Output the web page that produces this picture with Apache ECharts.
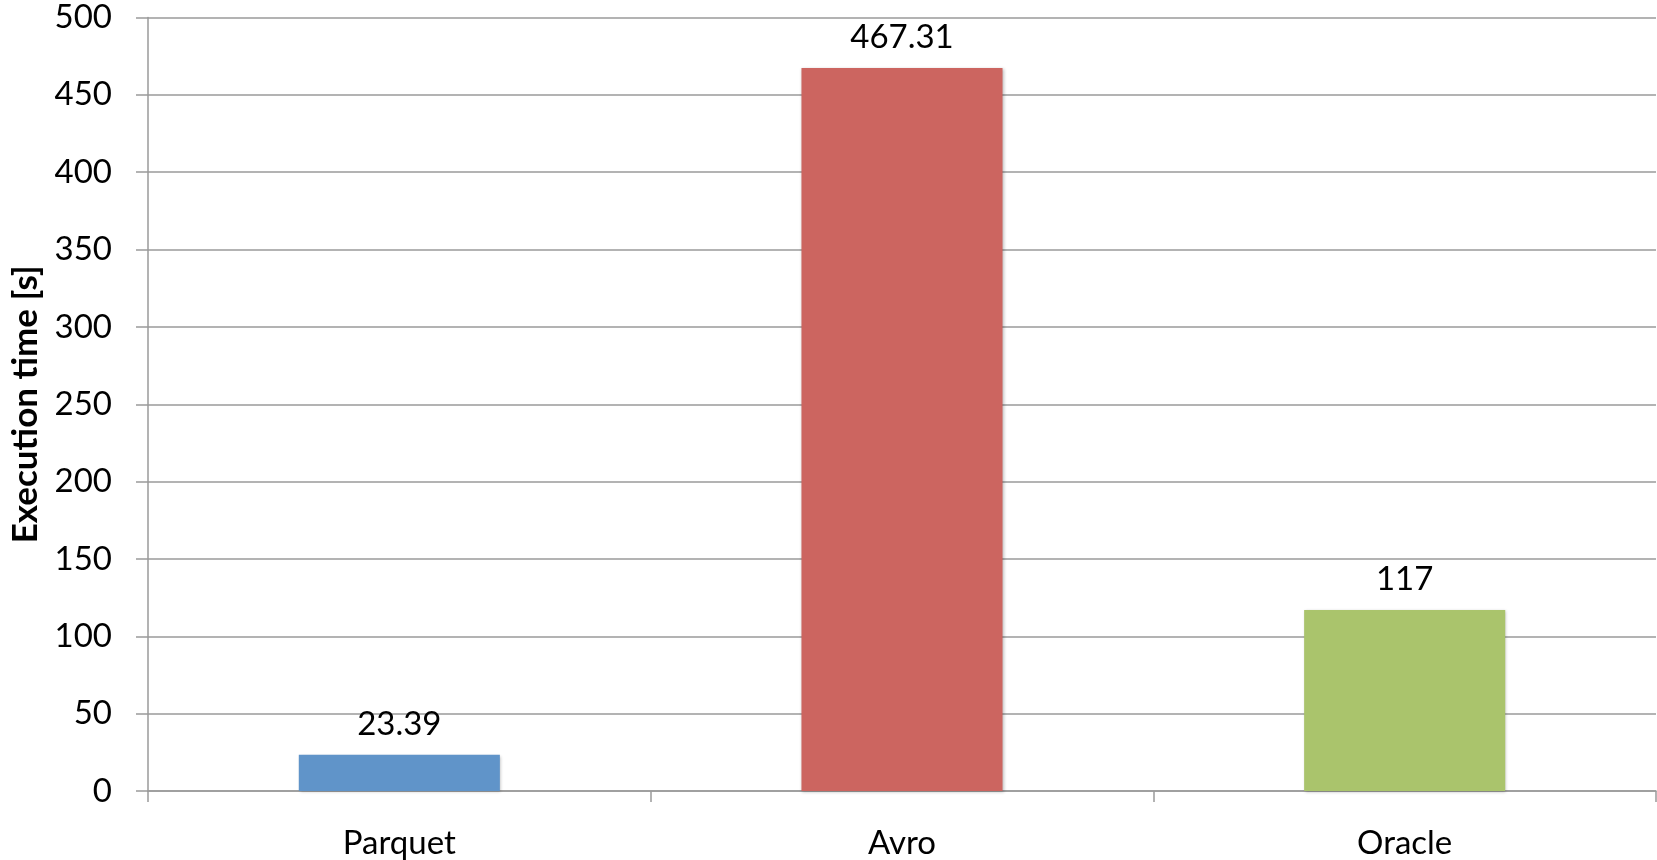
<!DOCTYPE html>
<html>
<head>
<meta charset="utf-8">
<script src="https://cdn.jsdelivr.net/npm/echarts@6/dist/echarts.min.js"></script>
<style>
html,body{margin:0;padding:0;background:#fff;}
#chart{width:1657px;height:860px;}
</style>
</head>
<body>
<div id="chart"></div>
<script>
const categories = ['Parquet', 'Avro', 'Oracle'];
const executionTimes = [23.39, 467.31, 117];
const barColors = ['#6094C9', '#CC6560', '#AAC46C'];
const yAxisTitle = 'Execution time [s]';

const chart = echarts.init(document.getElementById('chart'), null, {renderer: 'canvas'});
const font = 'Lato, "Open Sans", sans-serif';
chart.setOption({
  animation: false,
  backgroundColor: '#ffffff',
  grid: {left: 148, right: 1, top: 17.5, bottom: 68, containLabel: false},
  xAxis: {
    type: 'category',
    data: categories,
    axisLine: {show: true, lineStyle: {color: '#9a9a9a', width: 1.5}},
    axisTick: {show: true, length: 11, lineStyle: {color: '#9a9a9a', width: 1.5}},
    axisLabel: {color: '#000', fontFamily: font, fontSize: 33, margin: 36}
  },
  yAxis: {
    type: 'value',
    min: 0, max: 500, interval: 50,
    name: yAxisTitle,
    nameLocation: 'middle',
    nameGap: 101,
    nameRotate: 90,
    nameTextStyle: {color: '#000', fontFamily: font, fontSize: 35, fontWeight: 'bold'},
    axisLine: {show: true, lineStyle: {color: '#9a9a9a', width: 1.5}},
    axisTick: {show: true, length: 12, lineStyle: {color: '#9a9a9a', width: 1.5}},
    splitLine: {show: true, lineStyle: {color: '#9a9a9a', width: 1.5}},
    axisLabel: {color: '#000', fontFamily: font, fontSize: 33, margin: 36}
  },
  series: [{
    type: 'bar',
    barWidth: '40%',
    data: executionTimes.map((v, i) => ({value: v, itemStyle: {color: barColors[i]}})),
    itemStyle: {shadowColor: 'rgba(0,0,0,0.25)', shadowBlur: 3, shadowOffsetX: 1, shadowOffsetY: 1},
    label: {
      show: true, position: 'top', distance: 14,
      color: '#000', fontFamily: font, fontSize: 33,
      formatter: p => String(p.value)
    }
  }]
});
</script>
</body>
</html>
